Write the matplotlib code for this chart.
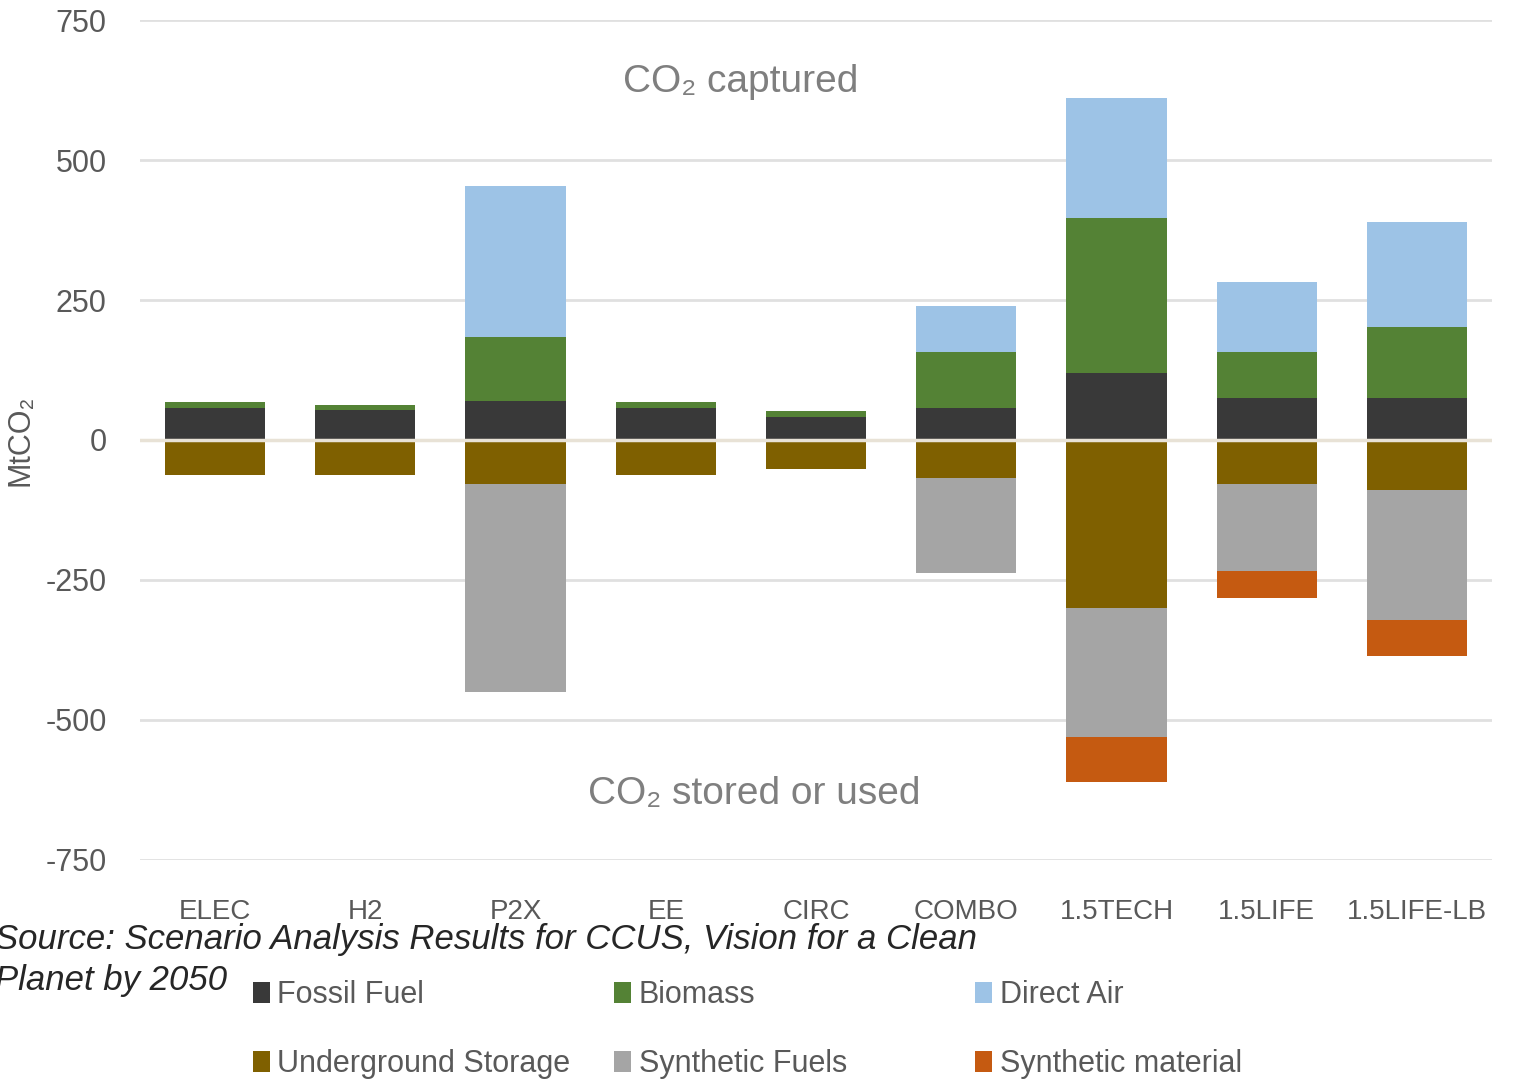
import matplotlib
matplotlib.use('Agg')
import matplotlib.pyplot as plt
from matplotlib import font_manager
from matplotlib.patches import Patch
import numpy as np

scenarios = ['ELEC', 'H2', 'P2X', 'EE', 'CIRC', 'COMBO', '1.5TECH', '1.5LIFE', '1.5LIFE-LB']

# captured (positive)
fossil_fuel = [58, 53, 70, 58, 41, 58, 119, 75, 75]
biomass = [9, 9, 114, 9, 10, 99, 278, 82, 126]
direct_air = [0, 0, 270, 0, 0, 82, 213, 126, 188]
# stored or used (negative)
underground_storage = [-62, -62, -78, -62, -51, -68, -300, -78, -90]
synthetic_fuels = [0, 0, -372, 0, 0, -170, -230, -156, -231]
synthetic_material = [0, 0, 0, 0, 0, 0, -80, -49, -64]

y_ticks = [750, 500, 250, 0, -250, -500, -750]
y_tick_labels = ['750', '500', '250', '0', '-250', '-500', '-750']

names = [f.name for f in font_manager.fontManager.ttflist]
narrow = 'Liberation Sans Narrow' if 'Liberation Sans Narrow' in names else 'Liberation Sans'
plt.rcParams['font.family'] = [narrow, 'DejaVu Sans']

colors = {
    'Fossil Fuel': '#393939',
    'Biomass': '#548235',
    'Direct Air': '#9dc3e6',
    'Underground Storage': '#7f6000',
    'Synthetic Fuels': '#a5a5a5',
    'Synthetic material': '#c55a11',
}
text_gray = '#595959'

fig = plt.figure(figsize=(15.24, 10.82), dpi=100)
ax = fig.add_axes([0.0919, 0.2052, 0.979 - 0.0919, 0.9815 - 0.2052])

x = np.arange(len(scenarios))
w = 0.667

pos_series = [('Fossil Fuel', fossil_fuel), ('Biomass', biomass), ('Direct Air', direct_air)]
neg_series = [('Underground Storage', underground_storage), ('Synthetic Fuels', synthetic_fuels),
              ('Synthetic material', synthetic_material)]

bottom = np.zeros(len(scenarios))
for name, vals in pos_series:
    vals = np.array(vals, dtype=float)
    ax.bar(x, vals, w, bottom=bottom, color=colors[name], zorder=2)
    bottom += vals
bottom = np.zeros(len(scenarios))
for name, vals in neg_series:
    vals = np.array(vals, dtype=float)
    ax.bar(x, vals, w, bottom=bottom, color=colors[name], zorder=2)
    bottom += vals

# light zero line running over the bars
ax.axhline(0, color='#e8e2d6', linewidth=2.5, zorder=3)

ax.set_xlim(-0.5, len(scenarios) - 0.5)
ax.set_ylim(-750, 750)
ax.set_yticks(y_ticks)
ax.set_yticklabels(y_tick_labels)
ax.set_xticks(x)
ax.set_xticklabels(scenarios)
ax.grid(axis='y', color='#e0e0e0', linewidth=2, zorder=0)
ax.set_axisbelow(True)
for s in ax.spines.values():
    s.set_visible(False)
ax.tick_params(axis='y', length=0, labelsize=22, colors=text_gray, pad=24)
ax.tick_params(axis='x', length=0, labelsize=20, colors=text_gray, pad=28)

fig.text(20 / 1524, 0.593, 'MtCO\u2082', rotation=90, ha='center', va='center',
         fontsize=22, color=text_gray)

ax.text(3.5, 640, 'CO\u2082 captured', ha='center', va='center', fontsize=28, color='#7f7f7f')
ax.text(3.59, -632, 'CO\u2082 stored or used', ha='center', va='center', fontsize=28, color='#7f7f7f')

fig.text(-0.003, 0.113, 'Source: Scenario Analysis Results for CCUS, Vision for a Clean\nPlanet by 2050',
         ha='left', va='center', fontsize=25, style='italic', color='#262626',
         family=['Liberation Sans', 'DejaVu Sans'], linespacing=1.3)

# legend in three columns
columns = [
    (['Fossil Fuel', 'Underground Storage'], 0.158),
    (['Biomass', 'Synthetic Fuels'], 0.395),
    (['Direct Air', 'Synthetic material'], 0.632),
]
for labels, xpos in columns:
    handles = [Patch(facecolor=colors[l], label=l) for l in labels]
    leg = fig.legend(handles=handles, loc='center left', bbox_to_anchor=(xpos, 0.0485),
                     frameon=False, fontsize=22, handlelength=0.55, handleheight=0.7,
                     handletextpad=0.25, labelspacing=1.28, borderaxespad=0)
    for t in leg.get_texts():
        t.set_color(text_gray)

fig.savefig('out.png', dpi=100)
